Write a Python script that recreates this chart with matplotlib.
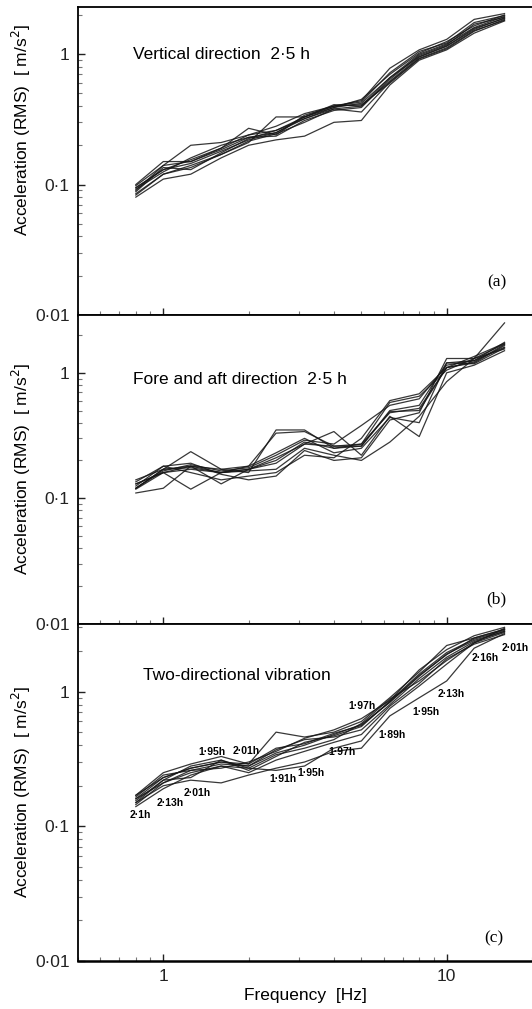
import matplotlib
matplotlib.use("Agg")
import matplotlib.pyplot as plt
from matplotlib.ticker import FixedLocator, FixedFormatter, LogLocator, NullFormatter

plt.rcParams['font.family'] = ['Liberation Sans', 'DejaVu Sans']

# Bandas de tercio de octava (Hz)
freq = [0.8, 1.0, 1.25, 1.6, 2.0, 2.5, 3.15, 4.0, 5.0, 6.3, 8.0, 10.0, 12.5, 16.0]

# (a) direccion vertical 2.5 h
vert = [
    [0.095, 0.13, 0.145, 0.18, 0.22, 0.25, 0.32, 0.38, 0.40, 0.62, 0.95, 1.15, 1.55, 1.90],
    [0.090, 0.14, 0.20, 0.21, 0.24, 0.26, 0.33, 0.39, 0.42, 0.66, 1.00, 1.20, 1.60, 1.95],
    [0.085, 0.12, 0.14, 0.17, 0.21, 0.33, 0.33, 0.40, 0.41, 0.60, 0.92, 1.10, 1.50, 1.85],
    [0.080, 0.11, 0.12, 0.16, 0.20, 0.22, 0.235, 0.30, 0.31, 0.58, 0.90, 1.08, 1.45, 1.80],
    [0.100, 0.15, 0.15, 0.19, 0.27, 0.24, 0.34, 0.40, 0.44, 0.78, 1.08, 1.30, 1.85, 2.05],
    [0.092, 0.125, 0.16, 0.20, 0.23, 0.235, 0.31, 0.37, 0.39, 0.64, 0.98, 1.18, 1.70, 1.92],
    [0.088, 0.135, 0.13, 0.175, 0.225, 0.26, 0.32, 0.39, 0.45, 0.70, 1.02, 1.25, 1.65, 2.00],
    [0.098, 0.14, 0.15, 0.185, 0.23, 0.25, 0.33, 0.41, 0.40, 0.66, 0.96, 1.16, 1.58, 1.88],
    [0.083, 0.12, 0.135, 0.17, 0.215, 0.245, 0.30, 0.38, 0.36, 0.61, 0.93, 1.12, 1.52, 1.82],
    [0.094, 0.13, 0.155, 0.19, 0.24, 0.28, 0.35, 0.40, 0.43, 0.72, 1.05, 1.22, 1.75, 1.98],
]

# (b) direccion proa-popa 2.5 h
fore = [
    [0.120, 0.17, 0.18, 0.16, 0.17, 0.20, 0.28, 0.25, 0.27, 0.48, 0.52, 1.10, 1.20, 1.65],
    [0.140, 0.17, 0.235, 0.17, 0.16, 0.35, 0.35, 0.25, 0.26, 0.50, 0.55, 1.20, 1.25, 1.60],
    [0.110, 0.12, 0.18, 0.13, 0.17, 0.19, 0.27, 0.34, 0.22, 0.45, 0.31, 1.00, 1.15, 1.50],
    [0.130, 0.16, 0.118, 0.16, 0.18, 0.33, 0.34, 0.26, 0.27, 0.58, 0.65, 1.05, 1.30, 1.70],
    [0.125, 0.18, 0.19, 0.155, 0.14, 0.15, 0.24, 0.20, 0.21, 0.42, 0.48, 1.30, 1.30, 1.55],
    [0.120, 0.165, 0.185, 0.165, 0.175, 0.22, 0.29, 0.27, 0.38, 0.55, 0.62, 1.15, 1.25, 1.75],
    [0.130, 0.16, 0.17, 0.16, 0.165, 0.17, 0.25, 0.22, 0.20, 0.28, 0.45, 0.85, 1.30, 2.50],
    [0.120, 0.17, 0.175, 0.16, 0.17, 0.21, 0.27, 0.26, 0.26, 0.49, 0.50, 1.10, 1.22, 1.68],
    [0.118, 0.16, 0.18, 0.17, 0.18, 0.23, 0.30, 0.23, 0.25, 0.44, 0.40, 1.20, 1.18, 1.58],
    [0.135, 0.18, 0.16, 0.14, 0.15, 0.16, 0.22, 0.21, 0.30, 0.60, 0.68, 1.10, 1.35, 1.72],
]

# (c) vibracion en dos direcciones
twodir = [
    [0.150, 0.20, 0.22, 0.21, 0.24, 0.27, 0.30, 0.36, 0.38, 0.66, 0.90, 1.20, 2.10, 2.70],
    [0.160, 0.23, 0.27, 0.30, 0.28, 0.35, 0.40, 0.48, 0.57, 0.83, 1.30, 1.90, 2.40, 2.80],
    [0.170, 0.25, 0.29, 0.33, 0.29, 0.50, 0.46, 0.50, 0.60, 0.90, 1.40, 2.20, 2.50, 2.90],
    [0.145, 0.21, 0.25, 0.28, 0.27, 0.26, 0.28, 0.38, 0.43, 0.75, 1.10, 1.60, 2.30, 2.75],
    [0.155, 0.22, 0.28, 0.31, 0.26, 0.33, 0.42, 0.47, 0.55, 0.85, 1.35, 1.95, 2.45, 2.85],
    [0.165, 0.24, 0.26, 0.29, 0.28, 0.37, 0.44, 0.46, 0.52, 0.80, 1.25, 1.80, 2.35, 2.80],
    [0.150, 0.22, 0.23, 0.31, 0.27, 0.34, 0.38, 0.44, 0.58, 0.88, 1.20, 1.70, 2.30, 2.95],
    [0.160, 0.21, 0.26, 0.27, 0.30, 0.36, 0.45, 0.52, 0.63, 0.86, 1.45, 2.05, 2.60, 3.00],
    [0.140, 0.19, 0.24, 0.28, 0.25, 0.31, 0.36, 0.42, 0.48, 0.78, 1.15, 1.75, 2.25, 2.65],
    [0.170, 0.23, 0.27, 0.30, 0.29, 0.38, 0.41, 0.49, 0.56, 0.84, 1.32, 1.88, 2.50, 2.90],
]

# Etiquetas de duracion en (c): texto, frecuencia, aceleracion
dur_text = ["2·1h", "2·13h", "2·01h", "1·95h", "2·01h", "1·91h", "1·95h", "1·97h",
            "1·97h", "1·89h", "1·95h", "2·13h", "2·16h", "2·01h"]
dur_f = [0.76, 0.945, 1.175, 1.33, 1.76, 2.37, 2.97, 3.82, 4.49, 5.73, 7.54, 9.3, 12.2, 15.6]
dur_v = [0.1215, 0.149, 0.178, 0.358, 0.364, 0.226, 0.25, 0.358, 0.787, 0.479, 0.71, 0.966, 1.79, 2.12]

fig = plt.figure(figsize=(5.32, 10.09), dpi=100)
left, right = 0.1466, 1.0
FS = 12.5
# posiciones [bottom, top] de cada panel y limite superior
panels = [
    (0.688, 0.993, 2.3, vert, "Vertical direction  2·5 h", (0.121, 0.847), "(a)", (0.923, 0.104), 0.6),
    (0.382, 0.688, 2.9, fore, "Fore and aft direction  2·5 h", (0.121, 0.79), "(b)", (0.921, 0.078), 0.5),
    (0.0476, 0.382, 3.2, twodir, "Two-directional vibration", (0.143, 0.846), "(c)", (0.916, 0.068), 0.5),
]

axes = []
for bottom, top, ymax, curves, title, tpos, tag, tagpos, ylab_y in panels:
    ax = fig.add_axes([left, bottom, right - left, top - bottom])
    for c in curves:
        ax.plot(freq, c, color="#151515", lw=0.9, alpha=0.85)
    ax.set_xscale("log")
    ax.set_yscale("log")
    ax.set_xlim(0.5, 20)
    ax.set_ylim(0.01, ymax)
    ax.spines["right"].set_visible(False)
    for s in ["left", "top"]:
        ax.spines[s].set_linewidth(1.3)
    ax.spines["bottom"].set_linewidth(1.8)

    ax.yaxis.set_major_locator(FixedLocator([0.01, 0.1, 1]))
    ax.yaxis.set_major_formatter(FixedFormatter(["0·01", "0·1", "1"]))
    ax.yaxis.set_minor_locator(LogLocator(base=10, subs=range(2, 10)))
    ax.yaxis.set_minor_formatter(NullFormatter())
    ax.xaxis.set_major_locator(FixedLocator([1, 10]))
    ax.xaxis.set_minor_locator(LogLocator(base=10, subs=range(2, 10)))
    ax.xaxis.set_minor_formatter(NullFormatter())
    ax.tick_params(which="both", direction="in", labelsize=FS, colors="#222")
    ax.tick_params(which="major", length=5, width=1, pad=6)
    ax.tick_params(which="minor", length=3, width=0.8, color="#777")

    ax.text(tpos[0], tpos[1], title, transform=ax.transAxes, fontsize=FS, va="center")
    ax.text(tagpos[0], tagpos[1], tag, transform=ax.transAxes, fontsize=FS,
            family="Liberation Serif", va="center", ha="center")
    ax.set_ylabel("Acceleration (RMS)  [ m/s$^2$]", fontsize=FS)
    ax.yaxis.set_label_coords(-0.099, ylab_y)
    axes.append(ax)

axes[0].tick_params(labelbottom=False)
axes[1].tick_params(labelbottom=False)
axes[2].xaxis.set_major_formatter(FixedFormatter(["1", "10"]))
axes[2].set_xlabel("Frequency  [Hz]", fontsize=FS, labelpad=3)

for t, f, v in zip(dur_text, dur_f, dur_v):
    axes[2].text(f, v, t, fontsize=7.5, fontweight="bold", va="center", ha="left")

fig.savefig("out.png", dpi=100)
